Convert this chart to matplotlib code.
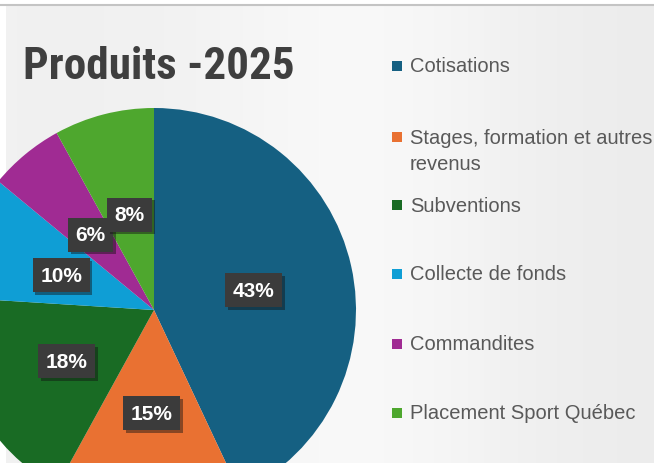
import matplotlib
matplotlib.use("Agg")
import matplotlib.pyplot as plt
import matplotlib.patheffects as pe
import matplotlib.transforms as mtrans
from matplotlib import font_manager
import numpy as np

categories = ["Cotisations", "Stages, formation et autres\nrevenus", "Subventions",
              "Collecte de fonds", "Commandites", "Placement Sport Québec"]
values = [43, 15, 18, 10, 6, 8]
colors = ["#156082", "#E97132", "#196B24", "#0F9ED5", "#A02B93", "#4EA72E"]
title = "Produits -2025"

names = {f.name for f in font_manager.fontManager.ttflist}
narrow = None
for cand in ["Roboto Condensed", "Liberation Sans Narrow", "Open Sans Condensed",
             "Arial Narrow", "Noto Sans Condensed"]:
    if cand in names:
        narrow = cand
        break
if narrow is None:
    narrow = "Roboto"
    title_size = 29.5
else:
    title_size = 32.5

W, H = 654, 464
fig = plt.figure(figsize=(W / 100, H / 100), dpi=100)
fig.patch.set_facecolor("white")

# background panel with soft gradient
bg = fig.add_axes([6 / W, 0, 1 - 6 / W, (H - 6) / H])
bg.set_axis_off()
x = np.linspace(0, 1, 300)
prof = 0.945 + 0.04 * np.exp(-((x - 0.55) / 0.25) ** 2) - 0.02 * x
img = np.tile(prof, (50, 1))
bg.imshow(np.dstack([img, img, img]), aspect="auto", extent=[0, 1, 0, 1])
bg.set_xlim(0, 1)
bg.set_ylim(0, 1)
fig.add_artist(plt.Line2D([0, 1], [1 - 5.5 / H, 1 - 5.5 / H], transform=fig.transFigure,
                          color="#c4c4c4", lw=1.5))

# pie axes: center (154, 311) px, radius 202 px
cx, cy, R = 154, 311, 202
ax = fig.add_axes([(cx - R) / W, (H - cy - R) / H, 2 * R / W, 2 * R / H])
ax.set_axis_off()
wedges, texts, autotexts = ax.pie(values, colors=colors, startangle=90, counterclock=False,
                                  radius=1, autopct="%1.0f%%", pctdistance=0.5,
                                  wedgeprops=dict(linewidth=0),
                                  textprops=dict(color="white", fontsize=15, fontweight="bold",
                                                 family="Liberation Sans"))
ax.set_xlim(-1, 1)
ax.set_ylim(-1, 1)
ax.set_aspect("equal")
for w in wedges:
    w.set_clip_on(False)

shift = mtrans.ScaledTranslation(1 / 100, -2.5 / 100, fig.dpi_scale_trans)
for t in autotexts:
    t.set_transform(ax.transData + shift)
    t.set_bbox(dict(boxstyle="square,pad=0.36", facecolor="#3b3b3b", edgecolor="none"))
    t.get_bbox_patch().set_path_effects([pe.SimplePatchShadow(offset=(2, -2), alpha=0.45),
                                         pe.Normal()])

# title
fig.text(23 / W, 1 - 79 / H, title, fontsize=title_size, fontweight="bold", color="#3f3f3f",
         family=narrow, va="baseline", ha="left")

# legend
leg_y = [67, 138, 206, 275, 345, 414]
for lab, col, yc in zip(categories, colors, leg_y):
    fig.patches.append(plt.Rectangle((392 / W, 1 - (yc + 5) / H), 10 / W, 10 / H,
                                     transform=fig.transFigure, facecolor=col,
                                     edgecolor="none"))
    lines = lab.split("\n")
    for i, line in enumerate(lines):
        fig.text(410 / W, 1 - (yc + 26 * i) / H, line, fontsize=14.5, color="#595959",
                 family="Liberation Sans", va="center", ha="left")

fig.savefig("out.png", dpi=100, facecolor=fig.get_facecolor())
